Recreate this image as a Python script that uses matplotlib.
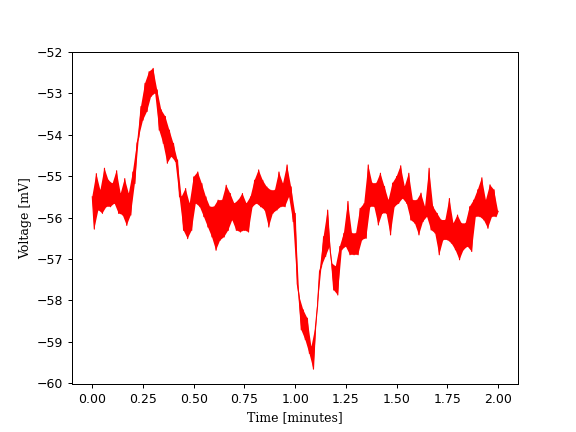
import numpy as np
import matplotlib
matplotlib.use("Agg")
import matplotlib.pyplot as plt

voltage = [
    -55.5, -56.28, -54.94, -55.82, -55.34, -55.9, -54.81, -55.74, -55.1, -55.74,
    -55.18, -55.66, -54.87, -55.9, -55.42, -55.94, -55.06, -56.19, -55.42, -55.94,
    -54.9, -55.18, -54.21, -54.05, -53.32, -53.65, -52.76, -53.44, -52.48, -53.08,
    -52.4, -53.0, -52.92, -53.89, -53.4, -54.21, -53.56, -54.69, -53.89, -54.53,
    -54.21, -54.65, -54.61, -55.5, -55.5, -56.31, -55.3, -56.51, -55.66, -56.31,
    -55.02, -55.66, -54.9, -55.74, -55.18, -55.98, -55.5, -56.23, -55.74, -56.47,
    -55.74, -56.79, -55.58, -56.55, -55.58, -56.47, -55.22, -56.31, -55.42, -56.06,
    -55.66, -56.31, -55.58, -56.35, -55.42, -56.31, -55.66, -56.35, -55.5, -55.74,
    -55.1, -55.66, -54.85, -55.74, -55.1, -55.82, -55.26, -56.23, -55.34, -55.9,
    -55.34, -55.82, -54.9, -55.74, -55.18, -55.74, -54.73, -55.5, -55.26, -56.1,
    -55.9, -57.6, -57.9, -58.71, -58.23, -58.95, -58.43, -59.28, -59.12, -59.66,
    -58.63, -58.15, -57.3, -57.18, -56.46, -56.94, -55.82, -56.7, -57.1, -57.75,
    -57.18, -57.87, -56.7, -56.78, -56.38, -56.7, -55.61, -56.9, -56.38, -56.9,
    -56.38, -56.9, -55.78, -56.54, -55.66, -56.5, -54.73, -55.74, -55.17, -55.74,
    -55.17, -56.18, -54.93, -55.9, -55.25, -55.9, -55.58, -56.42, -55.17, -55.74,
    -55.01, -55.66, -54.75, -55.54, -55.25, -55.66, -54.93, -56.06, -55.58, -56.14,
    -55.58, -56.42, -55.41, -56.1, -55.74, -55.98, -54.81, -56.3, -55.74, -56.38,
    -55.9, -56.9, -56.06, -56.54, -56.06, -56.54, -55.54, -56.62, -56.14, -56.78,
    -55.94, -57.02, -56.14, -56.78, -56.14, -56.7, -55.74, -56.82, -55.58, -55.98,
    -55.33, -55.98, -55.04, -56.06, -55.58, -56.26, -55.21, -55.98, -55.33, -55.98,
    -55.85,
]
time_min = np.linspace(0.0, 2.0, len(voltage))

x_label = "Time [minutes]"
y_label = "Voltage [mV]"

t = np.asarray(time_min)
v = np.asarray(voltage)

fig, ax = plt.subplots(figsize=(6.4, 4.8), dpi=90)
# band between the upper (even samples) and lower (odd samples) excursions
poly_t = np.concatenate([t[0::2], t[1::2][::-1]])
poly_v = np.concatenate([v[0::2], v[1::2][::-1]])
ax.fill(poly_t, poly_v, color="red", linewidth=0)
ax.plot(t, v, color="red", linewidth=0.9)
ax.set_ylim(-60.03, -52.0)
ax.set_xticks([0.0, 0.25, 0.5, 0.75, 1.0, 1.25, 1.5, 1.75, 2.0])
ax.set_xlabel(x_label, family="DejaVu Serif", fontsize=10)
ax.set_ylabel(y_label, family="DejaVu Serif", fontsize=10)
fig.savefig("out.png", dpi=90)
